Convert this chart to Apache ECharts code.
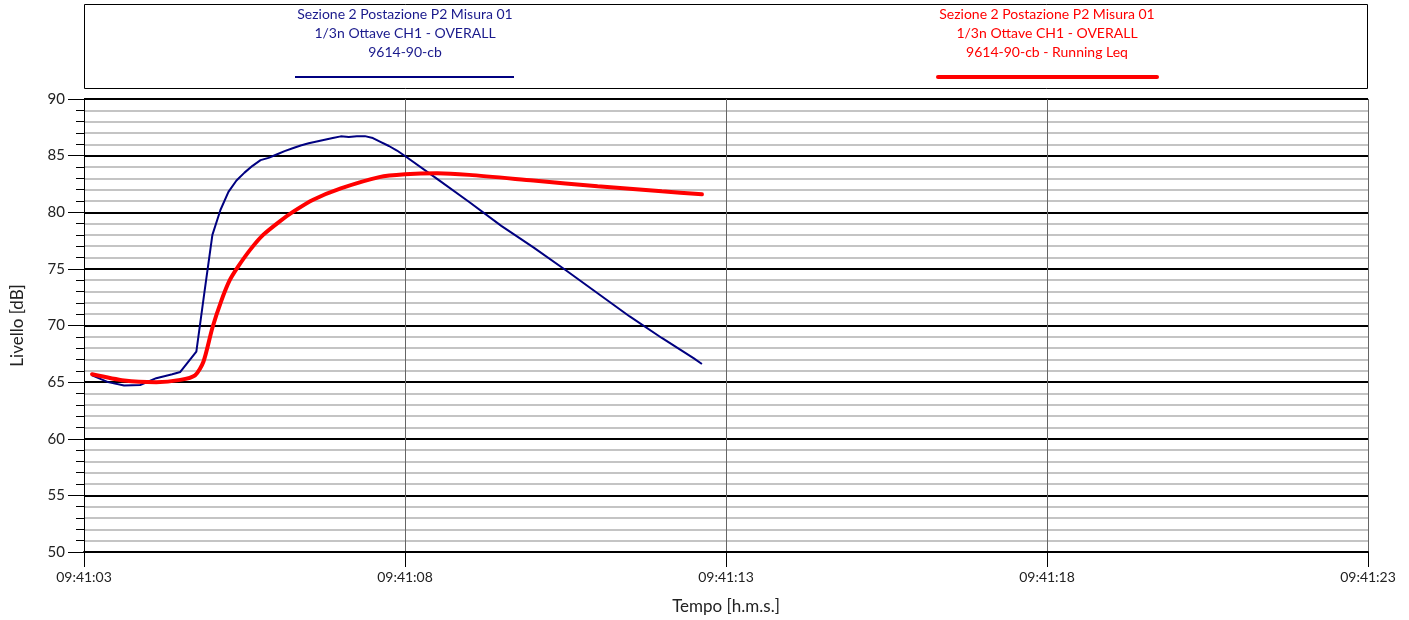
<!DOCTYPE html>
<html>
<head>
<meta charset="utf-8">
<script src="https://cdn.jsdelivr.net/npm/echarts@6/dist/echarts.min.js"></script>
<style>
  html, body { margin: 0; padding: 0; background: #fff; }
  #chart { width: 1409px; height: 620px; }
</style>
</head>
<body>
<div id="chart"></div>
<script>
// seconds after 09:41:03
const blueTime = [0.125, 0.375, 0.625, 0.875, 1.125, 1.375, 1.5, 1.75, 1.875, 2.0, 2.125, 2.25, 2.375, 2.5, 2.625, 2.75, 2.875, 3.0, 3.125, 3.25, 3.375, 3.5, 3.625, 3.75, 3.875, 4.0, 4.125, 4.25, 4.375, 4.5, 4.625, 4.75, 4.875, 5.0, 5.5, 6.0, 6.5, 7.0, 7.5, 8.0, 8.5, 9.0, 9.5, 9.625];
const blueLevel = [65.6, 65.0, 64.7, 64.75, 65.35, 65.7, 65.9, 67.7, 72.9, 78.0, 80.2, 81.8, 82.8, 83.5, 84.1, 84.6, 84.8, 85.1, 85.4, 85.65, 85.9, 86.1, 86.25, 86.4, 86.55, 86.7, 86.65, 86.7, 86.72, 86.55, 86.2, 85.85, 85.45, 84.97, 82.95, 80.9, 78.8, 76.9, 74.9, 72.85, 70.8, 68.9, 67.1, 66.6];

const redTime = [0.125, 0.625, 1.125, 1.5, 1.73, 1.86, 2.0, 2.14, 2.27, 2.4, 2.59, 2.79, 3.05, 3.26, 3.57, 4.0, 4.6, 5.0, 5.5, 6.0, 7.0, 8.0, 9.0, 9.625];
const redLevel = [65.7, 65.15, 65.0, 65.2, 65.6, 66.8, 69.8, 72.2, 74.0, 75.2, 76.7, 78.0, 79.2, 80.05, 81.1, 82.1, 83.1, 83.35, 83.44, 83.3, 82.8, 82.3, 81.85, 81.58];

const blueName = ['Sezione 2 Postazione P2 Misura 01', '1/3n Ottave CH1 - OVERALL', '9614-90-cb'];
const redName = ['Sezione 2 Postazione P2 Misura 01', '1/3n Ottave CH1 - OVERALL', '9614-90-cb - Running Leq'];

const FONT = 'Lato';

function fmtTime(v) {
  const s = 3 + Math.round(v);
  return '09:41:' + (s < 10 ? '0' + s : s);
}

const myChart = echarts.init(document.getElementById('chart'));

const option = {
  animation: false,
  backgroundColor: '#fff',
  textStyle: { fontFamily: FONT },
  grid: { left: 84, right: 41, top: 99, bottom: 68 },
  xAxis: {
    type: 'value',
    min: 0, max: 20, interval: 5,
    name: 'Tempo [h.m.s.]',
    nameLocation: 'middle',
    nameGap: 46,
    nameTextStyle: { fontSize: 17, color: '#222', fontFamily: FONT },
    axisLine: { show: true, lineStyle: { color: '#000', width: 2 } },
    axisTick: { show: true, length: 15, lineStyle: { color: '#000', width: 1 } },
    axisLabel: { fontSize: 14, color: '#222', margin: 18, formatter: fmtTime, fontFamily: FONT },
    splitLine: { show: true, lineStyle: { color: '#666', width: 1 } }
  },
  yAxis: {
    type: 'value',
    min: 50, max: 90, interval: 5,
    name: 'Livello [dB]',
    nameLocation: 'middle',
    nameGap: 58,
    nameRotate: 90,
    nameTextStyle: { fontSize: 17, color: '#222', fontFamily: FONT },
    axisLine: { show: true, lineStyle: { color: '#000', width: 1 } },
    axisTick: { show: true, length: 16, lineStyle: { color: '#000', width: 1 } },
    minorTick: { show: true, splitNumber: 5, length: 8, lineStyle: { color: '#000', width: 1 } },
    axisLabel: { fontSize: 15, color: '#222', margin: 19, fontFamily: FONT },
    splitLine: { show: true, lineStyle: { color: '#000', width: 2 } },
    minorSplitLine: { show: true, lineStyle: { color: '#c4c4c4', width: 2 } }
  },
  graphic: [
    {
      type: 'rect',
      shape: { x: 84.5, y: 4.5, width: 1283, height: 84 },
      style: { fill: '#fff', stroke: '#000', lineWidth: 1 },
      z: 0
    },
    {
      type: 'text', x: 405, y: 5,
      style: { text: blueName.join('\n'), fill: '#1a1a8c', font: '14px ' + FONT, align: 'center', lineHeight: 19 }
    },
    {
      type: 'line', shape: { x1: 295, y1: 77, x2: 514, y2: 77 },
      style: { stroke: '#000080', lineWidth: 2 }
    },
    {
      type: 'text', x: 1047, y: 5,
      style: { text: redName.join('\n'), fill: '#ff0000', font: '14px ' + FONT, align: 'center', lineHeight: 19 }
    },
    {
      type: 'line', shape: { x1: 938, y1: 77, x2: 1157, y2: 77 },
      style: { stroke: '#ff0000', lineWidth: 4, lineCap: 'round' }
    }
  ],
  series: [
    {
      name: blueName.join(' '),
      type: 'line',
      showSymbol: false,
      smooth: false,
      data: blueTime.map((t, i) => [t, blueLevel[i]]),
      lineStyle: { color: '#000080', width: 2 },
      z: 3
    },
    {
      name: redName.join(' '),
      type: 'line',
      showSymbol: false,
      smooth: 0.25,
      data: redTime.map((t, i) => [t, redLevel[i]]),
      lineStyle: { color: '#ff0000', width: 4, cap: 'round' },
      z: 4
    }
  ]
};

option && myChart.setOption(option);
</script>
</body>
</html>
